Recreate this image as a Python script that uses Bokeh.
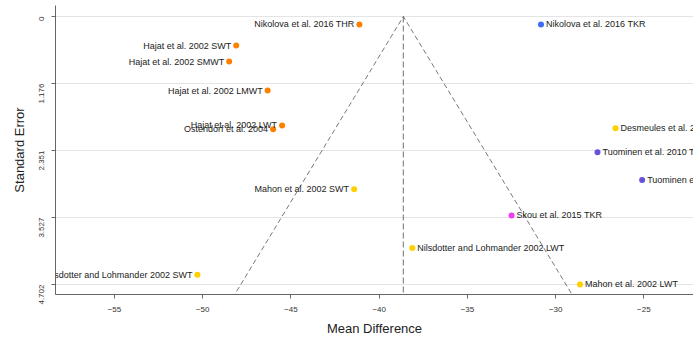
import math
from bokeh.plotting import figure
from bokeh.models import Range1d, FixedTicker, ColumnDataSource
from bokeh.core.properties import value
from bokeh.embed import file_html
from bokeh.resources import INLINE

# ---- data ----
studies = [
    "Nikolova et al. 2016 THR", "Nikolova et al. 2016 TKR",
    "Hajat et al. 2002 SWT", "Hajat et al. 2002 SMWT",
    "Hajat et al. 2002 LMWT", "Hajat et al. 2002 LWT",
    "Ostendorf et al. 2004", "Desmeules et al. 2009",
    "Tuominen et al. 2010 THR", "Tuominen et al. 2010 TKR",
    "Mahon et al. 2002 SWT", "Skou et al. 2015 TKR",
    "Nilsdotter and Lohmander 2002 LWT", "Nilsdotter and Lohmander 2002 SWT",
    "Mahon et al. 2002 LWT",
]
mean_diff = [-41.12, -30.83, -48.10, -48.50, -46.32, -45.50, -46.01, -26.61,
             -27.63, -25.10, -41.42, -32.50, -38.12, -50.30, -28.62]
std_err = [0.14, 0.14, 0.51, 0.79, 1.30, 1.91, 1.98, 1.96,
           2.38, 2.87, 3.03, 3.49, 4.06, 4.53, 4.70]
groups = ["orange", "blue", "orange", "orange", "orange", "orange", "orange", "yellow",
          "purple", "purple", "yellow", "magenta", "yellow", "yellow", "yellow"]
group_colors = {"orange": "#ff8000", "blue": "#3d6cf5", "yellow": "#ffd000",
                "purple": "#6a4fd8", "magenta": "#f03cf0"}
pooled_md = -38.63
y_ticks = [0, 1.176, 2.351, 3.527, 4.702]
x_ticks = [-55, -50, -45, -40, -35, -30, -25]
se_limit = 5.3

colors = [group_colors[g] for g in groups]
left = [m < pooled_md for m in mean_diff]

src_l = ColumnDataSource(dict(x=[m for m, l in zip(mean_diff, left) if l],
                              y=[s for s, l in zip(std_err, left) if l],
                              t=[t for t, l in zip(studies, left) if l]))
src_r = ColumnDataSource(dict(x=[m for m, l in zip(mean_diff, left) if not l],
                              y=[s for s, l in zip(std_err, left) if not l],
                              t=[t for t, l in zip(studies, left) if not l]))

p = figure(width=693, height=338,
           x_range=Range1d(-58.34, -22.19), y_range=Range1d(4.877, -0.193),
           output_backend="svg", toolbar_location=None,
           min_border_left=55, min_border_right=0, min_border_top=5, min_border_bottom=44)
p.outline_line_color = None
p.background_fill_color = "white"
p.border_fill_color = "white"

# grid
p.xgrid.grid_line_color = None
p.ygrid.grid_line_color = "#e4e4e4"
p.ygrid.grid_line_width = 1

# axes
FONT = "Liberation Sans"
for ax in (p.xaxis[0], p.yaxis[0]):
    ax.axis_line_color = "#666666"
    ax.major_tick_line_color = "#666666"
    ax.major_tick_out = 4
    ax.major_tick_in = 0
    ax.minor_tick_line_color = None
    ax.major_label_text_font = FONT
    ax.major_label_text_font_size = "8px"
    ax.major_label_text_color = "#333333"
    ax.axis_label_text_font = FONT
    ax.axis_label_text_font_size = "13px"
    ax.axis_label_text_font_style = "normal"
    ax.axis_label_text_color = "#222222"

p.xaxis.ticker = FixedTicker(ticks=x_ticks)
p.xaxis.axis_label = "Mean Difference"
p.xaxis.major_label_standoff = 8
p.xaxis.axis_label_standoff = 6

p.yaxis.ticker = FixedTicker(ticks=y_ticks)
p.yaxis.major_label_overrides = {t: ("0" if t == 0 else f"{t:.3f}") for t in y_ticks}
p.yaxis.major_label_orientation = math.pi / 2
p.yaxis.axis_label = "Standard Error"
p.yaxis.major_label_standoff = 10
p.yaxis.axis_label_standoff = 7

# funnel
p.line([pooled_md, pooled_md], [0, se_limit], line_color="#888888", line_width=1.2,
       line_dash="6 3")
p.line([pooled_md - 1.96 * se_limit, pooled_md, pooled_md + 1.96 * se_limit],
       [se_limit, 0, se_limit], line_color="#555555", line_width=0.8, line_dash="5 3")

# points
p.scatter(mean_diff, std_err, size=6, fill_color=colors, line_color=None)

# labels
p.text("x", "y", text="t", source=src_l, x_offset=-5, text_align="right",
       text_baseline="middle", text_font=value(FONT), text_font_size="9px",
       text_color="#222222")
p.text("x", "y", text="t", source=src_r, x_offset=5, text_align="left",
       text_baseline="middle", text_font=value(FONT), text_font_size="9px",
       text_color="#222222")

open("out.html", "w").write(file_html(p, INLINE))
